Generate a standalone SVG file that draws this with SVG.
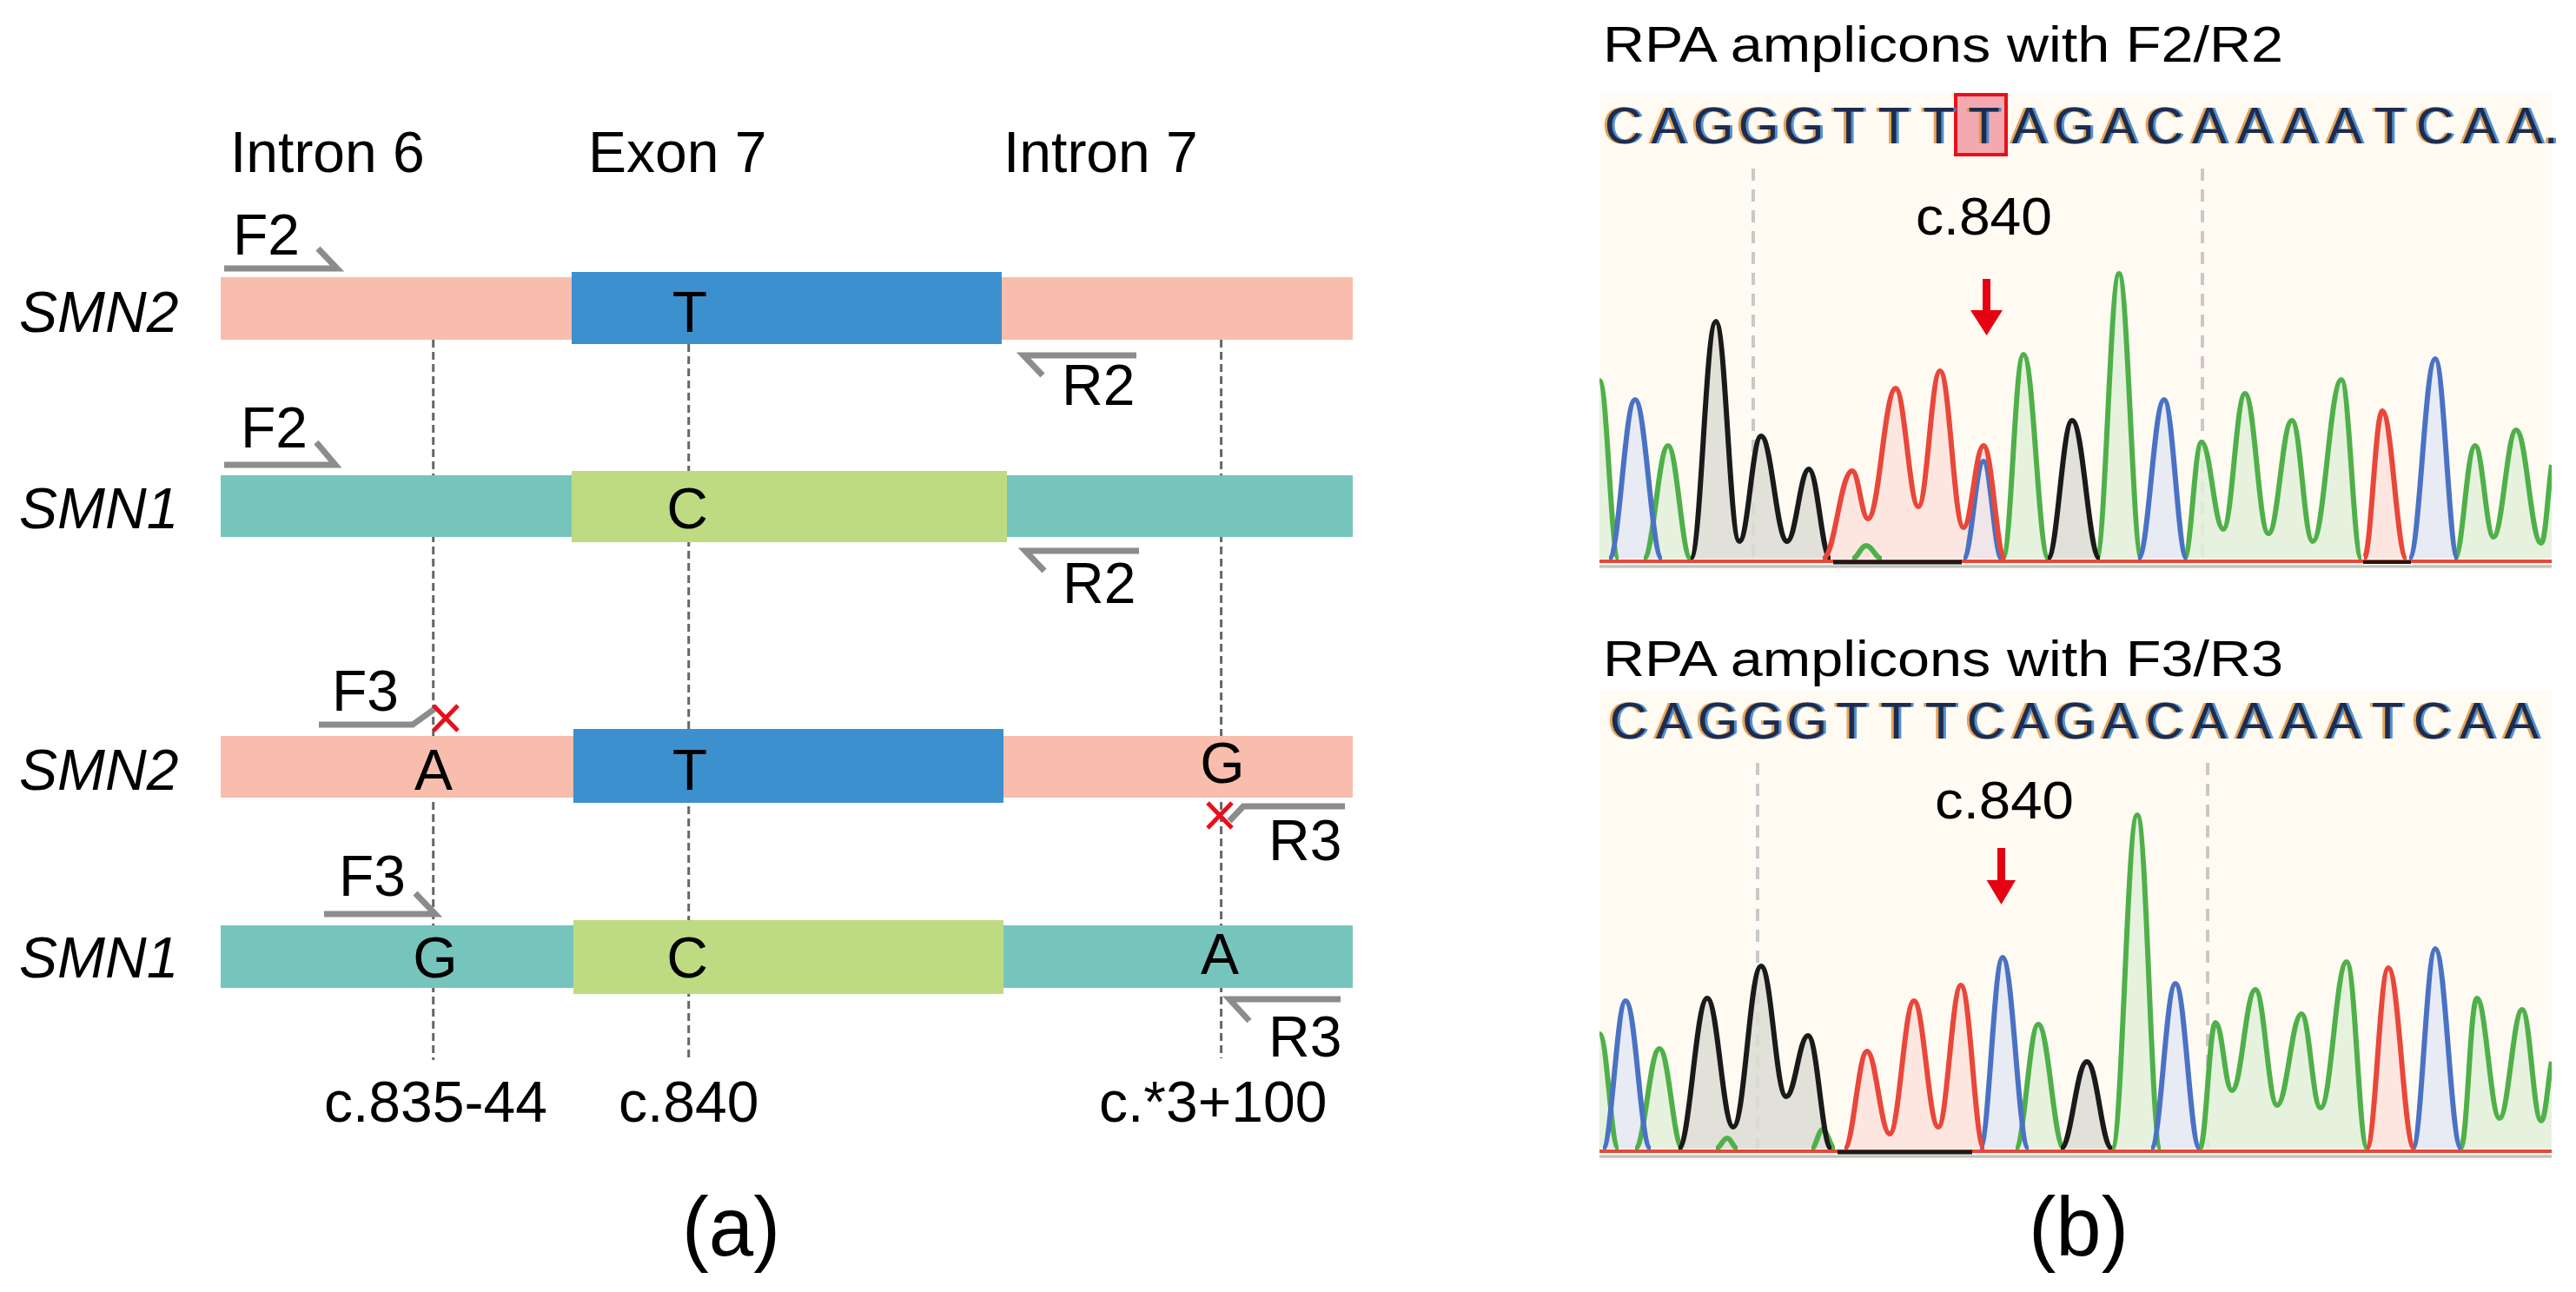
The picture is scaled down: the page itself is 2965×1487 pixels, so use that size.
<svg xmlns="http://www.w3.org/2000/svg" xmlns:xlink="http://www.w3.org/1999/xlink" width="2965" height="1487" viewBox="0 0 2965 1487">
<defs>
<style>
.t{font-family:"Liberation Sans",Arial,sans-serif;font-size:66px;fill:#000}
.it{font-style:italic}
.mid{text-anchor:middle}
.pink{fill:#f8bdac}.blue{fill:#3d90ce}.teal{fill:#76c5bd}.green{fill:#bedb82}
.dash{stroke:#666;stroke-width:3;stroke-dasharray:9 5;fill:none}
.primer{stroke:#8c8c8c;stroke-width:7;fill:none;stroke-linejoin:miter}
.xm{stroke:#e8101a;stroke-width:5;fill:none}
.seq{font-family:"Liberation Sans",Arial,sans-serif;font-size:60px;text-anchor:middle}
.vd{stroke:#c8c8c8;stroke-width:4;stroke-dasharray:14 10;fill:none}
.sg{stroke:#4fb04a;stroke-width:6;fill:none}
.sb{stroke:#4a72c4;stroke-width:6;fill:none}
.sk{stroke:#1a1a1a;stroke-width:6;fill:none}
.sr{stroke:#e8473a;stroke-width:6;fill:none}
.fg{fill:#e2f0d9;opacity:.85}
.fb{fill:#e4e6f3;opacity:.85}
.fk{fill:#dcdad4;opacity:.85}
.fr{fill:#fde2da;opacity:.85}
</style>
<clipPath id="clipTop"><rect x="1841" y="107" width="1096" height="548"/></clipPath>
<clipPath id="clipBot"><rect x="1841" y="795" width="1096" height="540"/></clipPath>
</defs>
<rect width="2965" height="1487" fill="#fff"/>

<!-- Panel (a) -->
<g id="headers">
<text class="t" x="265" y="198">Intron 6</text>
<text class="t" x="677" y="198">Exon 7</text>
<text class="t" x="1155" y="198">Intron 7</text>
</g>

<g id="connectors">
<line class="dash" x1="498.7" y1="391" x2="498.7" y2="1220"/>
<line class="dash" x1="792.7" y1="396" x2="792.7" y2="1220"/>
<line class="dash" x1="1405.6" y1="391" x2="1405.6" y2="1218"/>
</g>

<g id="row1-smn2">
<text class="t it" x="22" y="382">SMN2</text>
<rect class="pink" x="254" y="319" width="404" height="72"/>
<rect class="blue" x="658" y="313" width="495" height="83"/>
<rect class="pink" x="1153" y="319" width="404" height="72"/>
<text class="t mid" x="794" y="382">T</text>
</g>
<g id="row2-smn1">
<text class="t it" x="22" y="608">SMN1</text>
<rect class="teal" x="254" y="547" width="404" height="71"/>
<rect class="green" x="658" y="542" width="501" height="82"/>
<rect class="teal" x="1159" y="547" width="398" height="71"/>
<text class="t mid" x="791" y="608">C</text>
</g>
<g id="row3-smn2">
<text class="t it" x="22" y="909">SMN2</text>
<rect class="pink" x="254" y="847" width="406" height="71"/>
<rect class="blue" x="660" y="839" width="495" height="85"/>
<rect class="pink" x="1155" y="847" width="402" height="71"/>
<text class="t mid" x="499" y="909">A</text>
<text class="t mid" x="794" y="909">T</text>
<text class="t mid" x="1407" y="901">G</text>
</g>
<g id="row4-smn1">
<text class="t it" x="22" y="1125">SMN1</text>
<rect class="teal" x="254" y="1065" width="406" height="72"/>
<rect class="green" x="660" y="1059" width="495" height="85"/>
<rect class="teal" x="1155" y="1065" width="402" height="72"/>
<text class="t mid" x="501" y="1125">G</text>
<text class="t mid" x="791" y="1125">C</text>
<text class="t mid" x="1404" y="1121">A</text>
</g>

<g id="primers">
<g id="f2-row1"><text class="t" x="268" y="293">F2</text><path class="primer" d="M258,309 H388 L366,286"/></g>
<g id="r2-row1"><text class="t" x="1222" y="466">R2</text><path class="primer" d="M1308,409 H1178 L1200,432"/></g>
<g id="f2-row2"><text class="t" x="277" y="515">F2</text><path class="primer" d="M258,535 H386 L364,509"/></g>
<g id="r2-row2"><text class="t" x="1223" y="694">R2</text><path class="primer" d="M1311,634 H1180 L1202,657"/></g>
<g id="f3-row3"><text class="t" x="382" y="818">F3</text><path class="primer" d="M367,834 H475 L500,816"/>
<path class="xm" d="M499,812 L527,841 M527,812 L499,841"/></g>
<g id="r3-row3"><text class="t" x="1460" y="990">R3</text><path class="primer" d="M1548,928 H1431 L1415,945"/>
<path class="xm" d="M1390,924 L1418,953 M1418,924 L1390,953"/></g>
<g id="f3-row4"><text class="t" x="390" y="1031">F3</text><path class="primer" d="M373,1052 H501 L478,1028"/></g>
<g id="r3-row4"><text class="t" x="1460" y="1216">R3</text><path class="primer" d="M1543,1150 H1415 L1438,1175"/></g>
</g>

<g id="positions">
<text class="t" x="373" y="1291">c.835-44</text>
<text class="t" x="712" y="1291">c.840</text>
<text class="t" x="1265" y="1291">c.*3+100</text>
</g>
<text id="label-a" class="t" x="785" y="1445" textLength="113" lengthAdjust="spacingAndGlyphs" style="font-size:96px">(a)</text>

<!-- Panel (b) top -->
<g id="chrom-top">
<text class="t" x="1845" y="71" style="font-size:57px" textLength="783" lengthAdjust="spacingAndGlyphs">RPA amplicons with F2/R2</text>
<rect x="1841" y="107" width="1096" height="548" fill="#fffbf3"/>
<rect x="2251" y="109" width="58" height="69" fill="#f4a9b0" stroke="#e8101a" stroke-width="4"/>
<g id="seqTop">
<use xlink:href="#seqTopText" transform="translate(-3,0)" fill="#e39a45" opacity="0.9"/>
<use xlink:href="#seqTopText" transform="translate(3,0)" fill="#3f86c9" opacity="0.9"/>
<g fill="#1d2b4f"><text id="seqTopText" class="seq" x="1868.4 1920.3 1972.2 2024.1 2076 2127.9 2179.8 2231.7 2283.6 2335.5 2387.4 2439.3 2491.2 2543.1 2595 2646.9 2698.8 2750.7 2802.6 2854.5 2906.4 2936" y="165">CAGGGTTTTAGACAAAATCAA.</text></g>
</g>
<g clip-path="url(#clipTop)">
<line class="vd" x1="2018" y1="194" x2="2018" y2="643"/>
<line class="vd" x1="2535" y1="194" x2="2535" y2="643"/>
<path class="fg" d="M1841,438 C1850,438 1854,643 1863,643 L1841,643 Z"/>
<path class="fg" d="M1892,643 C1903,643 1909,513 1920,513 C1930,513 1936,643 1946,643 Z"/>
<path class="fg" d="M2132,643 C2138,643 2142,628 2148,628 C2155,628 2159,643 2166,643 Z"/>
<path class="fg" d="M2305,643 C2315,643 2319,408 2329,408 C2341,408 2346,643 2358,643 Z"/>
<path class="fg" d="M2413,643 C2423,643 2429,315 2439,315 C2449,315 2455,643 2465,643 Z"/>
<path class="fg" d="M2514,643 C2522,643 2526,509 2534,509 C2544,509 2549,609 2559,609 C2569,609 2574,453 2584,453 C2595,453 2600,614 2611,614 C2622,614 2627,484 2638,484 C2648,484 2652,623 2662,623 C2675,623 2682,437 2695,437 C2704,437 2709,643 2718,643 Z"/>
<path class="fg" d="M2825,643 C2835,643 2839,513 2849,513 C2857,513 2862,618 2870,618 C2880,618 2886,495 2896,495 C2908,495 2913,625 2925,625 C2930,625 2933,560 2937,535 L2937,643 Z"/>
<path class="fb" d="M1852,643 C1864,643 1870,460 1882,460 C1894,460 1901,643 1913,643 Z"/>
<path class="fb" d="M2461,643 C2473,643 2479,460 2491,460 C2501,460 2507,643 2517,643 Z"/>
<path class="fb" d="M2773,643 C2785,643 2791,413 2803,413 C2813,413 2819,643 2829,643 Z"/>
<path class="fk" d="M1946,643 C1958,643 1963,370 1975,370 C1986,370 1991,623 2002,623 C2012,623 2017,502 2027,502 C2039,502 2045,623 2057,623 C2067,623 2072,540 2082,540 C2092,540 2097,643 2107,643 Z"/>
<path class="fk" d="M2357,643 C2368,643 2374,484 2385,484 C2398,484 2404,643 2417,643 Z"/>
<path class="fr" d="M2098,643 C2112,643 2118,542 2132,542 C2139,542 2143,597 2150,597 C2163,597 2169,447 2182,447 C2192,447 2198,583 2208,583 C2218,583 2223,427 2233,427 C2244,427 2249,607 2260,607 C2269,607 2274,513 2283,513 C2293,513 2298,643 2308,643 Z"/>
<path class="fr" d="M2721,643 C2729,643 2734,473 2742,473 C2753,473 2759,643 2770,643 Z"/>
<path class="fb" d="M2260,643 C2269,643 2274,531 2283,531 C2291,531 2296,643 2304,643 Z" style="opacity:.5"/>
<path class="sg" d="M1841,438 C1850,438 1854,643 1863,643"/>
<path class="sg" d="M1892,643 C1903,643 1909,513 1920,513 C1930,513 1936,643 1946,643"/>
<path class="sg" d="M2132,643 C2138,643 2142,628 2148,628 C2155,628 2159,643 2166,643"/>
<path class="sg" d="M2305,643 C2315,643 2319,408 2329,408 C2341,408 2346,643 2358,643"/>
<path class="sg" d="M2413,643 C2423,643 2429,315 2439,315 C2449,315 2455,643 2465,643"/>
<path class="sg" d="M2514,643 C2522,643 2526,509 2534,509 C2544,509 2549,609 2559,609 C2569,609 2574,453 2584,453 C2595,453 2600,614 2611,614 C2622,614 2627,484 2638,484 C2648,484 2652,623 2662,623 C2675,623 2682,437 2695,437 C2704,437 2709,643 2718,643"/>
<path class="sg" d="M2825,643 C2835,643 2839,513 2849,513 C2857,513 2862,618 2870,618 C2880,618 2886,495 2896,495 C2908,495 2913,625 2925,625 C2930,625 2933,560 2937,535"/>
<path class="sb" d="M1852,643 C1864,643 1870,460 1882,460 C1894,460 1901,643 1913,643"/>
<path class="sb" d="M2260,643 C2269,643 2274,531 2283,531 C2291,531 2296,643 2304,643"/>
<path class="sb" d="M2461,643 C2473,643 2479,460 2491,460 C2501,460 2507,643 2517,643"/>
<path class="sb" d="M2773,643 C2785,643 2791,413 2803,413 C2813,413 2819,643 2829,643"/>
<path class="sk" d="M1946,643 C1958,643 1963,370 1975,370 C1986,370 1991,623 2002,623 C2012,623 2017,502 2027,502 C2039,502 2045,623 2057,623 C2067,623 2072,540 2082,540 C2092,540 2097,643 2107,643"/>
<path class="sk" d="M2357,643 C2368,643 2374,484 2385,484 C2398,484 2404,643 2417,643"/>
<path class="sr" d="M2098,643 C2112,643 2118,542 2132,542 C2139,542 2143,597 2150,597 C2163,597 2169,447 2182,447 C2192,447 2198,583 2208,583 C2218,583 2223,427 2233,427 C2244,427 2249,607 2260,607 C2269,607 2274,513 2283,513 C2293,513 2298,643 2308,643"/>
<path class="sr" d="M2721,643 C2729,643 2734,473 2742,473 C2753,473 2759,643 2770,643"/>
<line x1="1841" y1="652" x2="2937" y2="652" stroke="#bdbdbd" stroke-width="3"/>
<line x1="1841" y1="646" x2="2937" y2="646" stroke="#e8473a" stroke-width="4"/>
<line x1="2110" y1="647" x2="2258" y2="647" stroke="#1a1a1a" stroke-width="5"/>
<line x1="2720" y1="647" x2="2775" y2="647" stroke="#1a1a1a" stroke-width="4"/>
</g>
<text class="t" x="2205" y="270" style="font-size:62px" textLength="157" lengthAdjust="spacingAndGlyphs">c.840</text>
<g id="arrowTop" fill="#e60012">
<rect x="2282" y="321" width="9" height="37"/>
<polygon points="2268,357 2305,357 2286.6,386"/>
</g>
</g>

<!-- Panel (b) bottom -->
<g id="chrom-bottom">
<text class="t" x="1845" y="778" style="font-size:57px" textLength="783" lengthAdjust="spacingAndGlyphs">RPA amplicons with F3/R3</text>
<rect x="1841" y="795" width="1096" height="540" fill="#fffbf3"/>
<g id="seqBot">
<use xlink:href="#seqBotText" transform="translate(-3,0)" fill="#e39a45" opacity="0.9"/>
<use xlink:href="#seqBotText" transform="translate(3,0)" fill="#3f86c9" opacity="0.9"/>
<g fill="#1d2b4f"><text id="seqBotText" class="seq" x="1874.3 1925.7 1977.1 2028.5 2079.9 2131.3 2182.7 2234.1 2285.5 2336.9 2388.3 2439.7 2491.1 2542.5 2593.9 2645.3 2696.7 2748.1 2799.5 2850.9 2902.3" y="850">CAGGGTTTCAGACAAAATCAA</text></g>
</g>
<g clip-path="url(#clipBot)">
<line class="vd" x1="2023" y1="878" x2="2023" y2="1322"/>
<line class="vd" x1="2541" y1="878" x2="2541" y2="1322"/>
<path class="fg" d="M1841,1190 C1850,1190 1854,1322 1863,1322 L1841,1322 Z"/>
<path class="fg" d="M1882,1322 C1893,1322 1899,1207 1910,1207 C1921,1207 1926,1322 1937,1322 Z"/>
<path class="fg" d="M2320,1322 C2330,1322 2336,1179 2346,1179 C2358,1179 2364,1322 2376,1322 Z"/>
<path class="fg" d="M2431,1322 C2443,1322 2448,938 2460,938 C2471,938 2476,1322 2487,1322 Z"/>
<path class="fg" d="M2532,1322 C2539,1322 2543,1177 2550,1177 C2558,1177 2561,1255 2569,1255 C2580,1255 2585,1139 2596,1139 C2606,1139 2611,1272 2621,1272 C2632,1272 2638,1167 2649,1167 C2658,1167 2662,1275 2671,1275 C2683,1275 2689,1107 2701,1107 C2711,1107 2715,1322 2725,1322 Z"/>
<path class="fg" d="M2832,1322 C2840,1322 2843,1149 2851,1149 C2861,1149 2867,1287 2877,1287 C2887,1287 2893,1162 2903,1162 C2912,1162 2916,1290 2925,1290 C2930,1290 2933,1240 2937,1222 L2937,1322 Z"/>
<path class="fb" d="M1845,1322 C1855,1322 1861,1152 1871,1152 C1883,1152 1888,1322 1900,1322 Z"/>
<path class="fb" d="M2279,1322 C2289,1322 2295,1102 2305,1102 C2317,1102 2323,1322 2335,1322 Z"/>
<path class="fb" d="M2476,1322 C2487,1322 2493,1132 2504,1132 C2515,1132 2521,1322 2532,1322 Z"/>
<path class="fb" d="M2777,1322 C2787,1322 2793,1092 2803,1092 C2815,1092 2821,1322 2833,1322 Z"/>
<path class="fk" d="M1932,1322 C1945,1322 1952,1149 1965,1149 C1977,1149 1983,1297 1995,1297 C2008,1297 2014,1112 2027,1112 C2039,1112 2044,1262 2056,1262 C2066,1262 2071,1192 2081,1192 C2092,1192 2097,1322 2108,1322 Z"/>
<path class="fk" d="M2372,1322 C2384,1322 2390,1222 2402,1222 C2414,1222 2419,1322 2431,1322 Z"/>
<path class="fr" d="M2123,1322 C2133,1322 2139,1210 2149,1210 C2159,1210 2165,1305 2175,1305 C2186,1305 2192,1152 2203,1152 C2214,1152 2220,1297 2231,1297 C2241,1297 2247,1134 2257,1134 C2268,1134 2273,1322 2284,1322 Z"/>
<path class="fr" d="M2724,1322 C2734,1322 2739,1114 2749,1114 C2761,1114 2767,1322 2779,1322 Z"/>
<path class="sg" d="M1841,1190 C1850,1190 1854,1322 1863,1322"/>
<path class="sg" d="M1882,1322 C1893,1322 1899,1207 1910,1207 C1921,1207 1926,1322 1937,1322"/>
<path class="sg" d="M1975,1322 C1980,1322 1983,1310 1988,1310 C1993,1310 1995,1322 2000,1322"/>
<path class="sg" d="M2085,1322 C2090,1322 2093,1300 2098,1300 C2103,1300 2107,1322 2112,1322"/>
<path class="sg" d="M2320,1322 C2330,1322 2336,1179 2346,1179 C2358,1179 2364,1322 2376,1322"/>
<path class="sg" d="M2431,1322 C2443,1322 2448,938 2460,938 C2471,938 2476,1322 2487,1322"/>
<path class="sg" d="M2532,1322 C2539,1322 2543,1177 2550,1177 C2558,1177 2561,1255 2569,1255 C2580,1255 2585,1139 2596,1139 C2606,1139 2611,1272 2621,1272 C2632,1272 2638,1167 2649,1167 C2658,1167 2662,1275 2671,1275 C2683,1275 2689,1107 2701,1107 C2711,1107 2715,1322 2725,1322"/>
<path class="sg" d="M2832,1322 C2840,1322 2843,1149 2851,1149 C2861,1149 2867,1287 2877,1287 C2887,1287 2893,1162 2903,1162 C2912,1162 2916,1290 2925,1290 C2930,1290 2933,1240 2937,1222"/>
<path class="sb" d="M1845,1322 C1855,1322 1861,1152 1871,1152 C1883,1152 1888,1322 1900,1322"/>
<path class="sb" d="M2279,1322 C2289,1322 2295,1102 2305,1102 C2317,1102 2323,1322 2335,1322"/>
<path class="sb" d="M2476,1322 C2487,1322 2493,1132 2504,1132 C2515,1132 2521,1322 2532,1322"/>
<path class="sb" d="M2777,1322 C2787,1322 2793,1092 2803,1092 C2815,1092 2821,1322 2833,1322"/>
<path class="sk" d="M1932,1322 C1945,1322 1952,1149 1965,1149 C1977,1149 1983,1297 1995,1297 C2008,1297 2014,1112 2027,1112 C2039,1112 2044,1262 2056,1262 C2066,1262 2071,1192 2081,1192 C2092,1192 2097,1322 2108,1322"/>
<path class="sk" d="M2372,1322 C2384,1322 2390,1222 2402,1222 C2414,1222 2419,1322 2431,1322"/>
<path class="sr" d="M2123,1322 C2133,1322 2139,1210 2149,1210 C2159,1210 2165,1305 2175,1305 C2186,1305 2192,1152 2203,1152 C2214,1152 2220,1297 2231,1297 C2241,1297 2247,1134 2257,1134 C2268,1134 2273,1322 2284,1322"/>
<path class="sr" d="M2724,1322 C2734,1322 2739,1114 2749,1114 C2761,1114 2767,1322 2779,1322"/>
<line x1="1841" y1="1331" x2="2937" y2="1331" stroke="#bdbdbd" stroke-width="3"/>
<line x1="1841" y1="1325" x2="2937" y2="1325" stroke="#e8473a" stroke-width="4"/>
<line x1="2115" y1="1326" x2="2270" y2="1326" stroke="#1a1a1a" stroke-width="5"/>
</g>
<text class="t" x="2227" y="942" style="font-size:62px" textLength="160" lengthAdjust="spacingAndGlyphs">c.840</text>
<g id="arrowBot" fill="#e60012">
<rect x="2299" y="976" width="9" height="38"/>
<polygon points="2286.6,1013 2320,1013 2303.5,1041"/>
</g>
</g>
<text id="label-b" class="t" x="2335" y="1445" textLength="115" lengthAdjust="spacingAndGlyphs" style="font-size:96px">(b)</text>
</svg>
